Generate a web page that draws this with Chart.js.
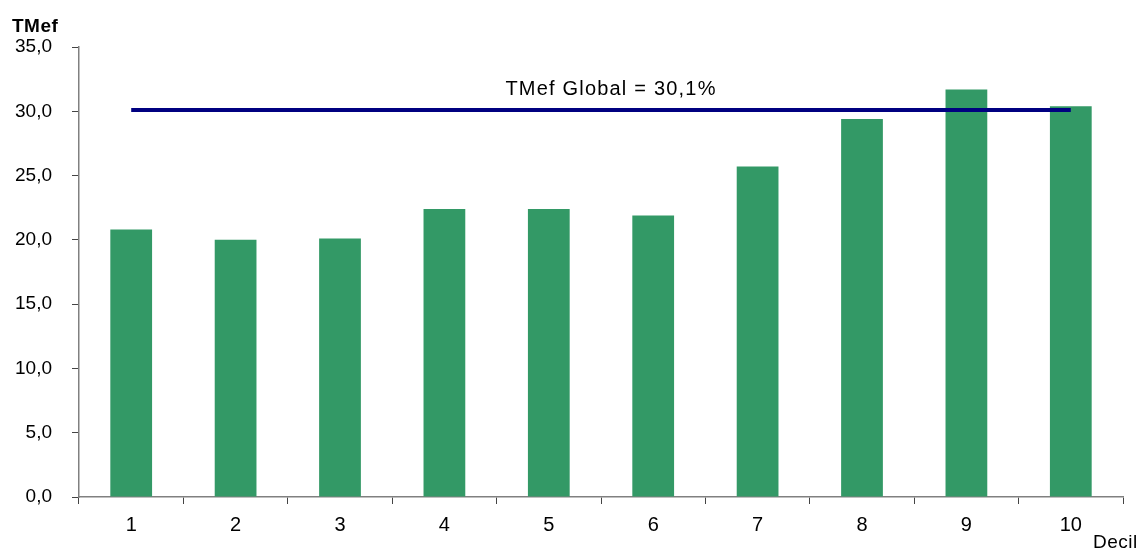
<!DOCTYPE html>
<html>
<head>
<meta charset="utf-8">
<script src="https://cdn.jsdelivr.net/npm/chart.js@4.4.0/dist/chart.umd.min.js"></script>
<style>
  html, body { margin: 0; padding: 0; background: #fff; }
  #wrap { width: 1145px; height: 549px; position: relative; }
</style>
</head>
<body>
<div id="wrap"><canvas id="chart"></canvas></div>
<script>
// data
const deciles = ['1', '2', '3', '4', '5', '6', '7', '8', '9', '10'];
const tmef = [20.8, 20.0, 20.1, 22.4, 22.4, 21.9, 25.7, 29.4, 31.7, 30.4];
const globalRate = 30.1;
const yTicks = [0, 5, 10, 15, 20, 25, 30, 35];

const FONT = '"Liberation Sans", Arial, sans-serif';
const fmt = v => v.toFixed(1).replace('.', ',');

const labelsPlugin = {
  id: 'labels',
  afterDraw(chart) {
    const ctx = chart.ctx;
    const x = chart.scales.x, y = chart.scales.y;
    ctx.save();
    ctx.fillStyle = '#000';
    ctx.textBaseline = 'alphabetic';

    // global rate label above the line
    ctx.font = '20px ' + FONT;
    ctx.letterSpacing = '1.2px';
    ctx.textAlign = 'center';
    const mid = (x.getPixelForValue(0) + x.getPixelForValue(deciles.length - 1)) / 2;
    ctx.fillText('TMef Global = ' + fmt(globalRate) + '%', mid + 10, y.getPixelForValue(globalRate) - 15);

    // axis names
    ctx.textAlign = 'left';
    ctx.font = 'bold 19px ' + FONT;
    ctx.letterSpacing = '0.5px';
    ctx.fillText('TMef', 12, 32);
    ctx.font = '19px ' + FONT;
    ctx.letterSpacing = '0.5px';
    ctx.fillText('Decil', 1093, 548);
    ctx.restore();
  }
};

new Chart(document.getElementById('chart'), {
  data: {
    labels: deciles,
    datasets: [
      {
        type: 'line',
        label: 'TMef Global',
        data: deciles.map(() => globalRate),
        borderColor: '#000080',
        borderWidth: 4,
        pointRadius: 0,
        tension: 0,
        order: 0
      },
      {
        type: 'bar',
        label: 'TMef',
        data: tmef,
        backgroundColor: '#339966',
        barPercentage: 0.4,
        categoryPercentage: 1,
        order: 1
      }
    ]
  },
  options: {
    responsive: true,
    maintainAspectRatio: false,
    animation: false,
    layout: { padding: { left: 0, right: 22, top: 47, bottom: 0 } },
    plugins: {
      legend: { display: false },
      tooltip: { enabled: false }
    },
    scales: {
      x: {
        offset: true,
        grid: { offset: true, drawOnChartArea: false, drawTicks: true, tickLength: 7, color: '#444' },
        border: { color: '#808080', width: 1.5 },
        ticks: { color: '#000', font: { family: FONT, size: 20 }, padding: 9 },
        afterFit: s => { s.height = 52; }
      },
      y: {
        min: 0,
        max: 35,
        afterBuildTicks: s => { s.ticks = yTicks.map(v => ({ value: v })); },
        grid: { drawOnChartArea: false, drawTicks: true, tickLength: 7, color: '#444' },
        border: { color: '#808080', width: 1.5 },
        ticks: { color: '#000', font: { family: FONT, size: 19 }, padding: 20, callback: v => fmt(v) },
        afterFit: s => { s.width = 79; }
      }
    }
  },
  plugins: [labelsPlugin]
});
</script>
</body>
</html>
